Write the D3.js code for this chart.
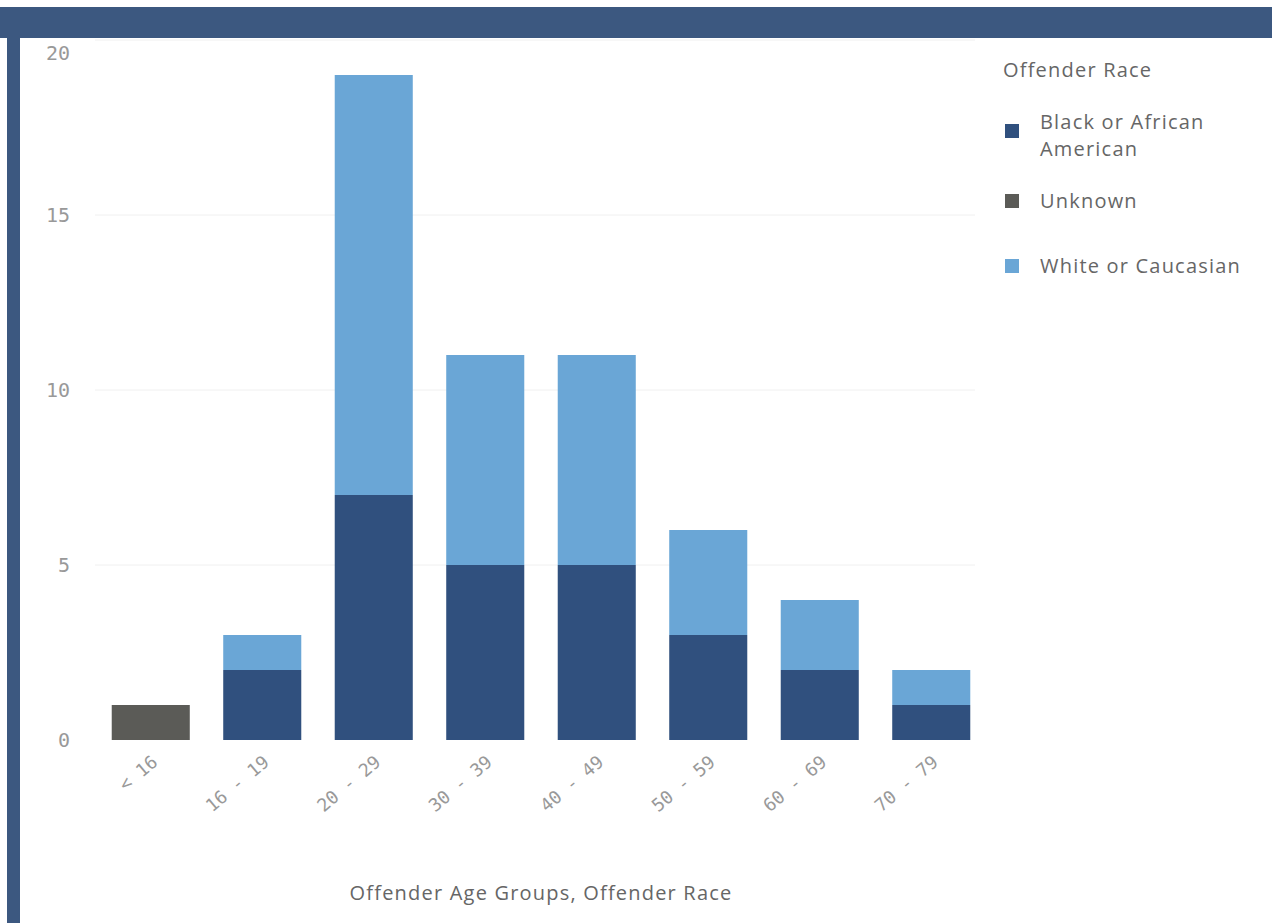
<!DOCTYPE html>
<html>
<head>
<meta charset="utf-8">
<script src="https://cdn.jsdelivr.net/npm/d3@7"></script>
<style>
  body { margin: 0; background: #fff; }
  svg { display: block; }
</style>
</head>
<body>
<div id="main-chart"></div>
<script>
const ageGroups = ["<16", "16 - 19", "20 - 29", "30 - 39", "40 - 49", "50 - 59", "60 - 69", "70 - 79"];
const tickLabels = ["< 16", "16 - 19", "20 - 29", "30 - 39", "40 - 49", "50 - 59", "60 - 69", "70 - 79"];
const races = ["Black or African American", "Unknown", "White or Caucasian"];
const blackVals = [0, 2, 7, 5, 5, 3, 2, 1];
const unknownVals = [1, 0, 0, 0, 0, 0, 0, 0];
const whiteVals = [0, 1, 12, 6, 6, 3, 2, 1];
const yTicks = [0, 5, 10, 15, 20];

const width = 1276, height = 923;
const colors = ["#30507e", "#5b5b57", "#6aa6d6"];

const svg = d3.select("#main-chart")
    .append("svg")
    .attr("width", width)
    .attr("height", height);

// frame
svg.append("rect").attr("x", 0).attr("y", 7).attr("width", 1272).attr("height", 31).attr("fill", "#3c5880");
svg.append("rect").attr("x", 7).attr("y", 38).attr("width", 13).attr("height", height - 38).attr("fill", "#3c5880");

const rows = ageGroups.map((g, i) => ({
    group: g,
    [races[0]]: blackVals[i],
    [races[1]]: unknownVals[i],
    [races[2]]: whiteVals[i]
}));

const x = d3.scaleBand().domain(ageGroups).range([95, 987]).paddingInner(0.3).paddingOuter(0.15);
const y = d3.scaleLinear().domain([0, 20]).range([740, 40]);

// grid
svg.append("g").selectAll("line").data(yTicks.filter(t => t > 0)).enter()
    .append("line")
    .attr("x1", 95).attr("x2", 975)
    .attr("y1", d => y(d)).attr("y2", d => y(d))
    .attr("stroke", "#f0f0f0").attr("stroke-width", 1);

// y labels
svg.append("g").selectAll("text").data(yTicks).enter()
    .append("text")
    .attr("x", 70)
    .attr("y", d => Math.max(y(d), 53) + 7)
    .attr("text-anchor", "end")
    .attr("font-family", "DejaVu Sans Mono")
    .attr("font-size", 20)
    .attr("fill", "#999")
    .text(d => d);

const stack = d3.stack().keys(races);
const series = stack(rows);

svg.append("g").selectAll("g").data(series).enter()
    .append("g")
    .attr("fill", (d, i) => colors[i])
    .selectAll("rect").data(d => d).enter()
    .append("rect")
    .attr("x", d => x(d.data.group))
    .attr("width", x.bandwidth())
    .attr("y", d => y(d[1]))
    .attr("height", d => y(d[0]) - y(d[1]));

// x labels
svg.append("g").selectAll("text").data(ageGroups).enter()
    .append("text")
    .attr("transform", d => `translate(${x(d) + x.bandwidth() / 2 + 8},764) rotate(-40)`)
    .attr("text-anchor", "end")
    .attr("font-family", "DejaVu Sans Mono")
    .attr("font-size", 18)
    .attr("fill", "#999")
    .text((d, i) => tickLabels[i]);

svg.append("text")
    .attr("x", 541).attr("y", 900)
    .attr("text-anchor", "middle")
    .attr("font-family", "Open Sans")
    .attr("font-size", 20)
    .attr("letter-spacing", 1.2)
    .attr("fill", "#666")
    .text("Offender Age Groups, Offender Race");

// legend
const legend = svg.append("g").attr("font-family", "Open Sans").attr("font-size", 20)
    .attr("letter-spacing", 1.2).attr("fill", "#666");
legend.append("text").attr("x", 1003).attr("y", 77).text("Offender Race");
const legendRows = [
    { lines: ["Black or African", "American"], sy: 124, ty: 129 },
    { lines: ["Unknown"], sy: 194, ty: 208 },
    { lines: ["White or Caucasian"], sy: 259, ty: 273 }
];
legendRows.forEach((r, i) => {
    legend.append("rect").attr("x", 1005).attr("y", r.sy).attr("width", 14).attr("height", 14).attr("fill", colors[i]);
    r.lines.forEach((l, j) => {
        legend.append("text").attr("x", 1040).attr("y", r.ty + j * 27).text(l);
    });
});
</script>
</body>
</html>
